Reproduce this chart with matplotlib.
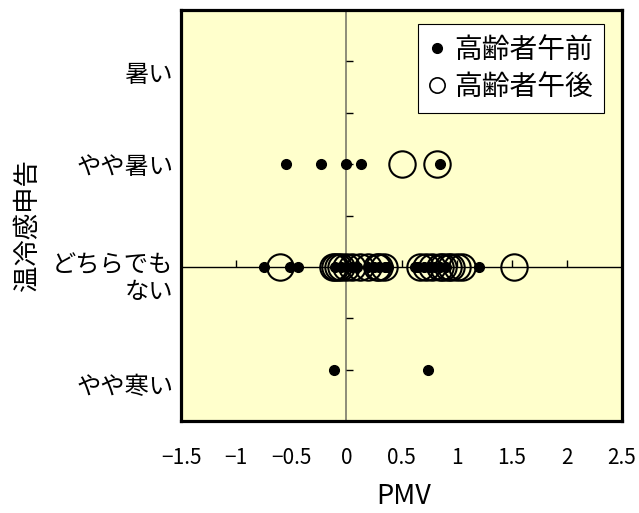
import numpy as np
import matplotlib
matplotlib.use("Agg")
import matplotlib.pyplot as plt
from matplotlib.lines import Line2D
from matplotlib.transforms import blended_transform_factory

plt.rcParams['font.family'] = ['Noto Sans CJK JP', 'DejaVu Sans']

# 温冷感申告: 1 = やや暑い, 0 = どちらでもない, -1 = やや寒い
# 高齢者午前 (filled dots)
am_pmv = [-0.55, -0.23, 0.0, 0.13, 0.85,
          -0.75, -0.51, -0.44,
          -0.10, -0.05, 0.0, 0.05, 0.10, 0.20, 0.25, 0.30, 0.35, 0.38,
          0.62, 0.65, 0.70, 0.75, 0.80, 0.85, 0.90, 1.20,
          -0.11, 0.74]
am_vote = [1, 1, 1, 1, 1,
           0, 0, 0,
           0, 0, 0, 0, 0, 0, 0, 0, 0, 0,
           0, 0, 0, 0, 0, 0, 0, 0,
           -1, -1]

# 高齢者午後 (open circles)
pm_pmv = [0.50, 0.82,
          -0.60,
          -0.12, -0.10, -0.08, -0.05, 0.0, 0.05, 0.12, 0.20, 0.28, 0.30, 0.34,
          0.67, 0.72, 0.78, 0.85, 0.88, 0.92, 0.95, 1.00, 1.05,
          1.52]
pm_vote = [1, 1,
           0,
           0, 0, 0, 0, 0, 0, 0, 0, 0, 0, 0,
           0, 0, 0, 0, 0, 0, 0, 0, 0,
           0]

x_ticks = [-1.5, -1, -0.5, 0, 0.5, 1, 1.5, 2, 2.5]
x_tick_labels = ['−1.5', '−1', '−0.5', '0', '0.5', '1', '1.5', '2', '2.5']
y_minor = [-1, -0.5, 0.5, 1, 1.5, 2]
cat_labels = ['暑い', 'やや暑い', 'どちらでも', 'ない', 'やや寒い']
cat_pos = [1.87, 0.97, 0.02, -0.24, -1.17]

fig = plt.figure(figsize=(6.39, 5.13), dpi=100)
ax = fig.add_axes([181/639, 92/513, 441/639, 411/513])
ax.set_facecolor('#FFFFCC')
ax.set_xlim(-1.5, 2.5)
ax.set_ylim(-1.5, 2.5)

# axis lines crossing at zero (Excel style)
ax.axhline(0, color='black', lw=1, zorder=1)
ax.axvline(0, color='#7a7a6a', lw=1.2, zorder=1)
inner_x = [t for t in x_ticks if -1.5 < t < 2.5]
ax.plot(inner_x, [0] * len(inner_x), linestyle='none', marker=2,
        markersize=5, color='black', mew=1, zorder=1)
ax.plot([0] * len(y_minor), y_minor, linestyle='none', marker=1,
        markersize=5, color='black', mew=1, zorder=1)

ax.plot(pm_pmv, pm_vote, linestyle='none', marker='o', markersize=19,
        markerfacecolor='none', markeredgecolor='black', mew=1.5, zorder=3)
ax.plot(am_pmv, am_vote, linestyle='none', marker='o', markersize=7,
        color='black', zorder=4)

for s in ax.spines.values():
    s.set_linewidth(2.3)
    s.set_color('black')

ax.set_xticks(x_ticks)
ax.set_xticklabels(x_tick_labels, fontsize=15)
ax.tick_params(axis='x', length=0, pad=19)
ax.set_yticks([])

tr = blended_transform_factory(ax.transAxes, ax.transData)
for lab, yp in zip(cat_labels, cat_pos):
    ax.text(-0.018, yp, lab, transform=tr, ha='right', va='center', fontsize=17.5)

fig.text(28/639, 1 - 225/513, '温冷感申告', rotation=90, ha='center',
         va='center', fontsize=19)
fig.text(404/639, 1 - 497/513, 'PMV', ha='center', va='center', fontsize=19.5)

handles = [
    Line2D([], [], linestyle='none', marker='o', markersize=7, color='black'),
    Line2D([], [], linestyle='none', marker='o', markersize=11,
           markerfacecolor='none', markeredgecolor='black', mew=1.2),
]
leg = ax.legend(handles, ['高齢者午前', '高齢者午後'], loc='upper right',
                bbox_to_anchor=(0.959, 0.966), borderaxespad=0, fontsize=20,
                frameon=True, fancybox=False, handlelength=0.6,
                handletextpad=0.3, borderpad=0.4, labelspacing=0.25)
leg.get_frame().set_edgecolor('black')
leg.get_frame().set_linewidth(0.8)
leg.get_frame().set_facecolor('white')
leg.get_frame().set_alpha(1)

fig.savefig('out.png', dpi=100)
